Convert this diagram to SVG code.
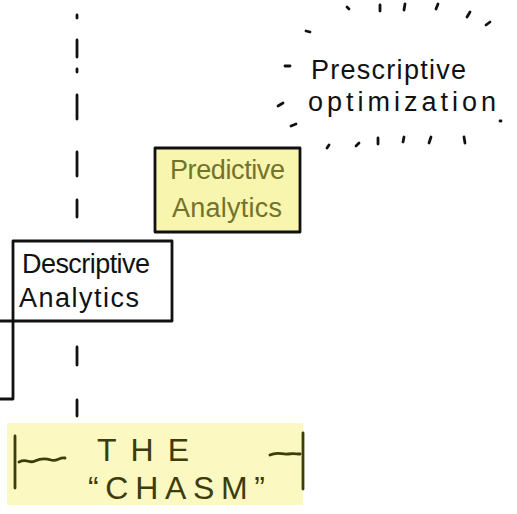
<svg xmlns="http://www.w3.org/2000/svg" width="517" height="514" viewBox="0 0 517 514">
<style>
.ink{stroke:#111;stroke-width:2.8;fill:none;stroke-linecap:round;stroke-linejoin:round}
.ray{stroke:#111;stroke-width:2.8;fill:none;stroke-linecap:round}
.box{stroke:#111;stroke-width:2.8;stroke-linejoin:round}
.hand{font-family:"Liberation Sans","DejaVu Sans",sans-serif;font-size:27px}
.olive{fill:#74732c}
.chasm{font-family:"Liberation Sans","DejaVu Sans",sans-serif;font-size:32px;fill:#3d3c0c}
</style>
<rect width="517" height="514" fill="#ffffff"/>
<g id="connectors">
<path class="ink" d="M77 15v3M77 40v17M77 69v3M77 95v24M77 152v24M77 200v17M77 347v18M77 400v16"/>
<path class="ink" d="M0 321h13M13 321v78h-13"/>
</g>
<g id="chasm">
<rect x="7" y="423" width="296" height="82" fill="#fbf8c2"/>
<path class="ink" style="stroke:#3d3c0c" d="M15 436v52M19 462c8-4 10 2 16-1s10-3 16-1 8-3 14-2M303 433v56M270 455c8-4 12 0 18-1s8 0 12 0"/>
<text class="chasm" x="97" y="461" textLength="92" lengthAdjust="spacing">THE</text>
<text class="chasm" x="88" y="499" textLength="177" lengthAdjust="spacing">“CHASM”</text>
</g>
<g id="predictive">
<rect class="box" x="155" y="148" width="145" height="84" fill="#f8f5ae"/>
<text class="hand olive" x="170" y="179" textLength="115">Predictive</text>
<text class="hand olive" x="172" y="217" textLength="110">Analytics</text>
</g>
<g id="descriptive">
<rect class="box" x="13" y="241" width="159" height="80" fill="#ffffff"/>
<text class="hand" x="22" y="273" textLength="128" fill="#111">Descriptive</text>
<text class="hand" x="19" y="307" textLength="120" fill="#111">Analytics</text>
</g>
<g id="prescriptive">
<text class="hand" x="311" y="79" font-size="30" textLength="155" fill="#111">Prescriptive</text>
<text class="hand" x="308" y="111" font-size="30" textLength="188" fill="#111">optimization</text>
<path class="ray" d="M347 7l2 2M380 5v6M405 4l-1 6M438 4l-2 5M470 12l-3 5M490 22l-4 3M306 31l4 1M285 66h5M278 106l5-3M291 126l5-2M500 121h1M327 148l2-3M356 146l3-3M378 144v-6M403 142l1-5M429 143l2-6M465 143l-1-6"/>
</g>
</svg>
